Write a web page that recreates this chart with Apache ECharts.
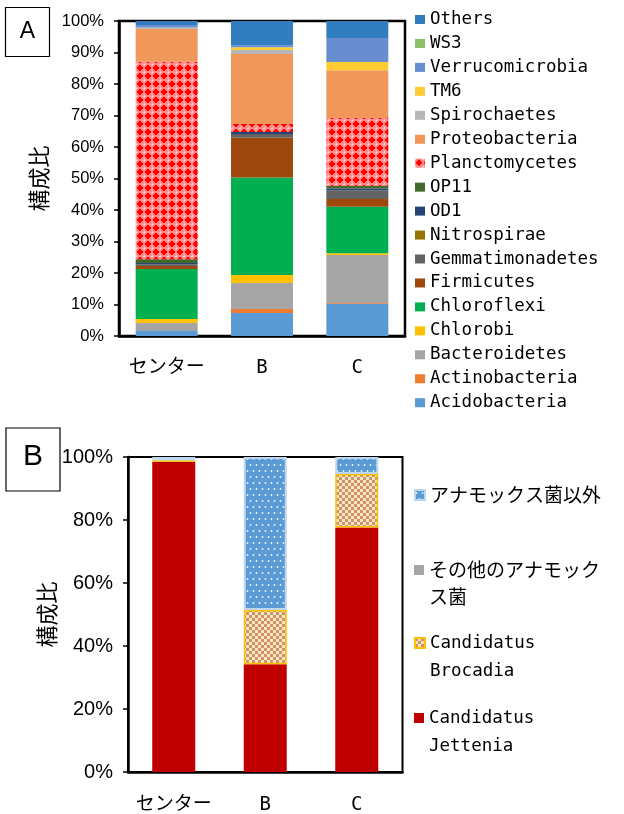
<!DOCTYPE html>
<html>
<head>
<meta charset="utf-8">
<script src="https://cdn.jsdelivr.net/npm/echarts@6/dist/echarts.min.js"></script>
<style>
  html, body { margin: 0; padding: 0; background: #fff; }
  #chart { width: 624px; height: 814px; }
</style>
</head>
<body>
<div id="chart"></div>
<script>
// ---- data: community composition (%) per site ----
const sites = ['センター', 'B', 'C'];

// panel A: phylum-level composition, stacked bottom to top
const acidobacteria    = [1.6, 7.3, 10.2];
const actinobacteria   = [0.0, 1.3, 0.3];
const bacteroidetes    = [2.5, 8.2, 15.2];
const chlorobi         = [1.3, 2.6, 0.6];
const chloroflexi      = [15.9, 30.9, 14.7];
const firmicutes       = [0.9, 12.6, 2.5];
const gemmatimonadetes = [0.6, 1.2, 2.8];
const nitrospirae      = [0.0, 0.0, 0.0];
const od1              = [0.4, 0.7, 0.5];
const op11             = [1.2, 0.0, 0.8];
const planctomycetes   = [62.7, 2.5, 21.6];
const proteobacteria   = [10.4, 22.2, 15.2];
const spirochaetes     = [0.4, 1.3, 0.0];
const tm6              = [0.0, 0.9, 2.6];
const verrucomicrobia  = [0.8, 0.5, 7.6];
const ws3              = [0.0, 0.0, 0.0];
const others           = [1.3, 7.8, 5.4];

// panel B: anammox bacteria composition, stacked bottom to top
const jettenia      = [98.5, 34.2, 77.6];
const brocadia      = [0.5, 17.2, 17.0];
const otherAnammox  = [0.0, 0.0, 0.0];
const nonAnammox    = [1.0, 48.6, 5.4];

const percentTicksA = [0, 10, 20, 30, 40, 50, 60, 70, 80, 90, 100];
const percentTicksB = [0, 20, 40, 60, 80, 100];

// ---- fill patterns ----
function makePattern(w, h, draw) {
  const c = document.createElement('canvas');
  c.width = w; c.height = h;
  draw(c.getContext('2d'));
  return { image: c, repeat: 'repeat' };
}
const planctoFill = makePattern(8, 8, g => {
  g.fillStyle = '#ff8a8a'; g.fillRect(0, 0, 8, 8);
  g.fillStyle = '#ff0000';
  g.fillRect(3, 1, 2, 6); g.fillRect(1, 3, 6, 2); g.fillRect(2, 2, 4, 4);
  g.fillStyle = '#ffe4e4';
  g.fillRect(0, 0, 1, 1);
  g.fillStyle = '#ffc4c4';
  g.fillRect(7, 0, 1, 1); g.fillRect(0, 7, 1, 1);
});
const brocadiaFill = makePattern(6, 6, g => {
  g.fillStyle = '#fbe6c4'; g.fillRect(0, 0, 6, 6);
  g.fillStyle = '#cf936c';
  g.fillRect(0, 0, 3, 3); g.fillRect(3, 3, 3, 3);
});
const nonAnammoxFill = makePattern(6, 12, g => {
  g.fillStyle = '#5b9bd5'; g.fillRect(0, 0, 6, 12);
  g.fillStyle = 'rgba(255,255,255,0.9)';
  g.beginPath(); g.arc(1.5, 3, 0.9, 0, Math.PI * 2); g.fill();
  g.beginPath(); g.arc(4.5, 9, 0.9, 0, Math.PI * 2); g.fill();
});

// ---- series definitions, bottom of stack first ----
const phyla = [
  ['Acidobacteria', acidobacteria, '#5b9bd5'],
  ['Actinobacteria', actinobacteria, '#ed7d31'],
  ['Bacteroidetes', bacteroidetes, '#a5a5a5'],
  ['Chlorobi', chlorobi, '#ffc000'],
  ['Chloroflexi', chloroflexi, '#00b050'],
  ['Firmicutes', firmicutes, '#9e480e'],
  ['Gemmatimonadetes', gemmatimonadetes, '#636363'],
  ['Nitrospirae', nitrospirae, '#997300'],
  ['OD1', od1, '#264478'],
  ['OP11', op11, '#43682b'],
  ['Planctomycetes', planctomycetes, planctoFill],
  ['Proteobacteria', proteobacteria, '#f1975a'],
  ['Spirochaetes', spirochaetes, '#b7b7b7'],
  ['TM6', tm6, '#ffcd33'],
  ['Verrucomicrobia', verrucomicrobia, '#698ed0'],
  ['WS3', ws3, '#8cc168'],
  ['Others', others, '#327dc0']
];

const anammox = [
  ['Candidatus Jettenia', jettenia, { color: '#c00000' }],
  ['Candidatus Brocadia', brocadia, { color: brocadiaFill, borderColor: '#ffc000', borderWidth: 1.5 }],
  ['その他のアナモックス菌', otherAnammox, { color: '#a5a5a5' }],
  ['アナモックス菌以外', nonAnammox, { color: nonAnammoxFill, borderColor: '#bdd7ee', borderWidth: 2 }]
];

const series = [];
phyla.forEach(([name, data, color]) => {
  series.push({
    name, type: 'bar', stack: 'phylum', xAxisIndex: 0, yAxisIndex: 0,
    barWidth: '65%', data, itemStyle: { color }
  });
});
anammox.forEach(([name, data, style]) => {
  series.push({
    name, type: 'bar', stack: 'anammox', xAxisIndex: 1, yAxisIndex: 1,
    barWidth: '47%', data, itemStyle: style
  });
});

const tickFont = "'Liberation Sans Narrow', 'Liberation Sans', sans-serif";
const catFont = "'DejaVu Sans Mono', 'Noto Sans CJK JP', monospace";
const cjk = "'Noto Sans CJK JP', sans-serif";
const mono = "'DejaVu Sans Mono', monospace";

function valueAxis(gridIndex, ticks, fontSize, gap) {
  return {
    type: 'value', gridIndex,
    min: ticks[0], max: ticks[ticks.length - 1], interval: ticks[1] - ticks[0],
    name: '構成比', nameLocation: 'middle', nameGap: gap, nameRotate: 90,
    nameTextStyle: { fontFamily: cjk, fontSize: 22, color: '#000' },
    axisLine: { show: true, lineStyle: { color: '#000', width: 2.5 } },
    axisTick: { show: true, length: 5, lineStyle: { color: '#000', width: 1.5 } },
    axisLabel: { formatter: '{value}%', fontFamily: tickFont, fontSize, color: '#000', margin: 15 },
    splitLine: { show: false }
  };
}
function categoryAxis(gridIndex, margin) {
  return {
    type: 'category', gridIndex, data: sites,
    axisLine: { show: true, lineStyle: { color: '#000', width: 2.5 } },
    axisTick: { show: false },
    axisLabel: { interval: 0, fontFamily: catFont, fontSize: 19, color: '#000', margin }
  };
}

// legend text for panel B: wrap long labels onto two lines
function wrapB(name) {
  if (name.indexOf(' ') >= 0) return name.split(' ').map(s => '{la|' + s + '}').join('\n');
  if (name.length > 9) return '{jp|' + name.slice(0, 9) + '}\n{jp|' + name.slice(9) + '}';
  return '{jp|' + name + '}';
}
const richB = {
  jp: { fontFamily: cjk, fontSize: 19, lineHeight: 27, color: '#000' },
  la: { fontFamily: mono, fontSize: 17.5, lineHeight: 28, color: '#000' }
};
function legendB(name, top, padTop) {
  return {
    data: [name], orient: 'vertical', left: 414, top, padding: 0,
    icon: 'rect', itemWidth: 10, itemHeight: 10, selectedMode: false,
    formatter: wrapB,
    textStyle: { rich: richB, padding: [padTop, 0, 0, 0] }
  };
}

const chart = echarts.init(document.getElementById('chart'), null, { renderer: 'canvas' });
chart.setOption({
  animation: false,
  backgroundColor: '#fff',
  grid: [
    { left: 119, right: 219, top: 21, bottom: 478, outerBoundsMode: 'none', show: true, borderColor: '#000', borderWidth: 2.5, backgroundColor: 'transparent' },
    { left: 128, right: 221.5, top: 457, bottom: 42, outerBoundsMode: 'none', show: true, borderColor: '#000', borderWidth: 2, backgroundColor: 'transparent' }
  ],
  xAxis: [categoryAxis(0, 23), categoryAxis(1, 23.5)],
  yAxis: [valueAxis(0, percentTicksA, 16.5, 69), valueAxis(1, percentTicksB, 20, 70)],
  legend: [
    {
      data: phyla.map(p => p[0]).reverse(),
      orient: 'vertical', left: 415, top: 10.5, padding: 0,
      icon: 'rect', itemWidth: 10, itemHeight: 9, itemGap: 5.95, selectedMode: false,
      textStyle: { fontFamily: mono, fontSize: 17.5, lineHeight: 17, color: '#000' }
    },
    legendB('アナモックス菌以外', 485.5, 0),
    legendB('その他のアナモックス菌', 560.5, 27),
    legendB('Candidatus Brocadia', 634, 28),
    legendB('Candidatus Jettenia', 709, 28)
  ],
  graphic: [
    { type: 'rect', shape: { x: 5.5, y: 7.5, width: 44, height: 49 }, style: { fill: '#fff', stroke: '#000', lineWidth: 1.2 } },
    { type: 'text', x: 27.5, y: 32, style: { text: 'A', fontFamily: tickFont, fontSize: 23, fill: '#000', align: 'center', verticalAlign: 'middle' } },
    { type: 'rect', shape: { x: 6, y: 428, width: 54, height: 63 }, style: { fill: '#fff', stroke: '#000', lineWidth: 1.2 } },
    { type: 'text', x: 33, y: 457, style: { text: 'B', fontFamily: tickFont, fontSize: 30, fill: '#000', align: 'center', verticalAlign: 'middle' } }
  ],
  series
});
</script>
</body>
</html>
